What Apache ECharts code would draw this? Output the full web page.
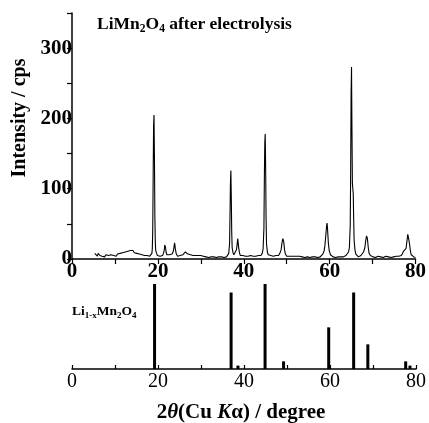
<!DOCTYPE html>
<html>
<head>
<meta charset="utf-8">
<script src="https://cdn.jsdelivr.net/npm/echarts@6/dist/echarts.min.js"></script>
<style>
html,body{margin:0;padding:0;background:#fff;}
#chart{width:429px;height:423px;}
</style>
</head>
<body>
<div id="chart"></div>
<script>
// Measured XRD pattern: [2theta (deg), intensity (cps)]
const measuredPattern = [
[5.3,8],[5.5,6],[5.7,7],[5.9,4],[6.1,8],[6.3,6],[6.5,5],[6.8,7],[7.0,4],[7.3,6],[7.6,3],[7.9,6],[8.2,4],[8.5,5],[8.8,3],[9.1,6],[9.4,4],[9.7,5],
[10.0,6],[10.3,4],[10.6,7],[10.9,5],[11.2,8],[11.5,6],[11.8,9],[12.1,7],[12.4,10],[12.7,8],[13.0,11],[13.3,9],[13.6,12],[13.9,10],[14.2,12],[14.5,9],[14.8,11],
[15.1,8],[15.4,10],[15.7,7],[16.0,9],[16.3,6],[16.6,8],[16.9,5],[17.2,7],[17.5,5],[17.8,6],[18.1,4],[18.4,6],[18.6,8],[18.7,14],[18.8,40],[18.9,115],[19.0,190],
[19.1,205],[19.2,145],[19.3,60],[19.4,24],[19.5,12],[19.7,8],[19.9,5],[20.2,7],[20.5,4],[20.8,6],[21.1,5],[21.3,8],[21.5,13],[21.6,20],[21.7,22],[21.8,16],[21.9,10],
[22.1,6],[22.4,4],[22.7,6],[23.0,5],[23.3,7],[23.6,11],[23.8,19],[23.9,23],[24.0,21],[24.1,13],[24.3,7],[24.6,4],[24.9,6],[25.2,5],[25.5,7],[25.8,6],[26.1,8],
[26.4,10],[26.6,12],[26.8,9],[27.0,7],[27.3,5],[27.6,6],[27.9,4],[28.2,5],[28.5,4],[28.8,5],[29.1,3],[29.4,5],[29.7,4],[30.0,5],[30.3,3],[30.6,4],[30.9,5],
[31.2,3],[31.5,4],[31.8,2],[32.1,4],[32.4,3],[32.7,5],[33.0,3],[33.3,4],[33.6,2],[33.9,4],[34.2,3],[34.5,5],[34.8,3],[35.1,4],[35.4,2],[35.7,4],[36.0,3],
[36.3,5],[36.5,8],[36.7,22],[36.8,62],[36.9,108],[37.0,126],[37.1,88],[37.2,38],[37.3,16],[37.5,9],[37.7,6],[37.9,5],[38.1,7],[38.3,13],[38.5,23],[38.6,29],
[38.7,27],[38.8,17],[39.0,9],[39.2,5],[39.5,3],[39.8,5],[40.1,3],[40.4,4],[40.7,2],[41.0,4],[41.3,3],[41.6,5],[41.9,3],[42.2,4],[42.5,2],[42.8,4],[43.1,3],
[43.4,5],[43.7,4],[44.0,5],[44.3,8],[44.5,14],[44.7,44],[44.8,115],[44.9,165],[45.0,178],[45.1,130],[45.2,58],[45.3,22],[45.5,10],[45.7,6],[46.0,4],[46.3,5],
[46.6,3],[46.9,4],[47.2,3],[47.5,5],[47.8,4],[48.1,5],[48.4,8],[48.7,13],[48.9,23],[49.1,29],[49.2,30],[49.3,25],[49.5,13],[49.7,7],[50.0,4],[50.3,3],[50.6,4],
[50.9,2],[51.2,4],[51.5,3],[51.8,4],[52.1,2],[52.4,4],[52.7,3],[53.0,4],[53.3,2],[53.6,3],[53.9,4],[54.2,2],[54.5,4],[54.8,3],[55.1,4],[55.4,2],[55.7,4],
[56.0,3],[56.3,4],[56.6,3],[56.9,4],[57.2,2],[57.5,4],[57.8,3],[58.1,5],[58.4,7],[58.7,11],[58.9,19],[59.1,33],[59.3,48],[59.4,51],[59.5,44],[59.7,23],[59.9,12],
[60.2,6],[60.5,4],[60.8,3],[61.1,4],[61.4,2],[61.7,4],[62.0,3],[62.3,4],[62.6,3],[62.9,4],[63.2,3],[63.5,4],[63.8,5],[64.1,6],[64.4,10],[64.6,16],[64.8,48],
[64.9,125],[65.0,235],[65.1,273],[65.2,185],[65.3,108],[65.4,100],[65.5,93],[65.6,58],[65.7,27],[65.9,13],[66.1,7],[66.4,5],[66.7,3],[67.0,4],[67.3,5],[67.6,6],
[67.9,10],[68.2,16],[68.4,26],[68.6,33],[68.7,34],[68.8,29],[69.0,16],[69.2,8],[69.5,5],[69.8,4],[70.1,3],[70.4,4],[70.7,2],[71.0,3],[71.3,4],[71.6,2],[71.9,3],
[72.2,4],[72.5,2],[72.8,3],[73.1,4],[73.4,2],[73.7,3],[74.0,4],[74.3,2],[74.6,4],[74.9,3],[75.2,2],[75.5,4],[75.8,3],[76.1,4],[76.4,3],[76.7,5],[77.0,8],
[77.2,11],[77.4,13],[77.6,10],[77.8,15],[78.0,25],[78.2,35],[78.3,37],[78.4,29],[78.6,22],[78.8,12],[79.0,6],[79.3,4],[79.6,3],[80.0,2]
];

// Reference pattern for Li1-xMn2O4 (relative intensity)
const refAngles = [19.2, 37.0, 38.6, 44.9, 49.2, 59.7, 65.5, 68.8, 77.6, 78.6];
const refIntensity = [100, 90, 4, 100, 9, 49, 90, 29, 9, 4];

const xTickLabels = [0, 20, 40, 60, 80];
const yTickLabels = [0, 100, 200, 300];

const FONT = '"Liberation Serif", "Times New Roman", serif';
const chart = echarts.init(document.getElementById('chart'));

const refData = refAngles.map((a, i) => [a, refIntensity[i]]);

chart.setOption({
  animation: false,
  backgroundColor: '#fff',
  grid: [
    {left: 72, width: 345, top: 13, height: 246},
    {left: 72, width: 345, top: 284, height: 85}
  ],
  xAxis: [
    {
      gridIndex: 0, type: 'value', min: 0, max: 80, interval: 10,
      axisLine: {lineStyle: {color: '#000', width: 1.5}},
      axisTick: {show: true, length: 5, lineStyle: {color: '#000', width: 1.2}},
      splitLine: {show: false},
      axisLabel: {
        margin: 2, color: '#000', fontFamily: FONT, fontWeight: 'bold', fontSize: 21,
        formatter: v => xTickLabels.includes(v) ? String(v) : ''
      }
    },
    {
      gridIndex: 1, type: 'value', min: 0, max: 80, interval: 10,
      axisLine: {lineStyle: {color: '#000', width: 1.5}},
      axisTick: {show: true, inside: true, length: 4, lineStyle: {color: '#000', width: 1.2}},
      splitLine: {show: false},
      axisLabel: {
        margin: 3, color: '#000', fontFamily: FONT, fontSize: 20,
        formatter: v => xTickLabels.includes(v) ? String(v) : ''
      }
    }
  ],
  yAxis: [
    {
      gridIndex: 0, type: 'value', min: 0, max: 350, interval: 50,
      axisLine: {show: true, lineStyle: {color: '#000', width: 1.5}},
      axisTick: {show: true, length: 5, lineStyle: {color: '#000', width: 1.2}},
      splitLine: {show: false},
      axisLabel: {
        margin: 0, color: '#000', fontFamily: FONT, fontWeight: 'bold', fontSize: 21,
        formatter: v => yTickLabels.includes(v) ? String(v) : ''
      }
    },
    {
      gridIndex: 1, type: 'value', min: 0, max: 100, show: false
    }
  ],
  series: [
    {
      type: 'line', xAxisIndex: 0, yAxisIndex: 0, data: measuredPattern,
      showSymbol: false, symbol: 'none',
      lineStyle: {color: '#000', width: 1.1}
    },
    {
      type: 'bar', xAxisIndex: 1, yAxisIndex: 1, data: refData,
      barWidth: 3, itemStyle: {color: '#000'}
    }
  ],
  graphic: [
    {
      type: 'text', left: 97, top: 15,
      style: {
        text: '{b|LiMn}{s|2}{b|O}{s|4}{b| after electrolysis}',
        rich: {
          b: {fontFamily: FONT, fontWeight: 'bold', fontSize: 17.5, fill: '#000', verticalAlign: 'top', lineHeight: 20},
          s: {fontFamily: FONT, fontWeight: 'bold', fontSize: 11.5, fill: '#000', verticalAlign: 'top', lineHeight: 13, padding: [8, 0, 0, 0]}
        }
      }
    },
    {
      type: 'text', left: 72, top: 305,
      style: {
        text: '{b|Li}{s|1-x}{b|Mn}{s|2}{b|O}{s|4}',
        rich: {
          b: {fontFamily: FONT, fontWeight: 'bold', fontSize: 13.5, fill: '#000', verticalAlign: 'top', lineHeight: 15},
          s: {fontFamily: FONT, fontWeight: 'bold', fontSize: 9, fill: '#000', verticalAlign: 'top', lineHeight: 10, padding: [6, 0, 0, 0]}
        }
      }
    },
    {
      type: 'text', x: 20, y: 118, rotation: Math.PI / 2,
      style: {
        text: 'Intensity / cps', fontFamily: FONT, fontWeight: 'bold', fontSize: 20, fill: '#000',
        align: 'center', verticalAlign: 'middle'
      }
    },
    {
      type: 'text', x: 241, y: 413,
      style: {
        text: '{n|2}{i|θ}{n|(Cu }{i|K}{n|α) / degree}',
        align: 'center', verticalAlign: 'middle',
        rich: {
          n: {fontFamily: FONT, fontWeight: 'bold', fontSize: 21, fill: '#000'},
          i: {fontFamily: FONT, fontWeight: 'bold', fontStyle: 'italic', fontSize: 21, fill: '#000'}
        }
      }
    }
  ]
});
</script>
</body>
</html>
